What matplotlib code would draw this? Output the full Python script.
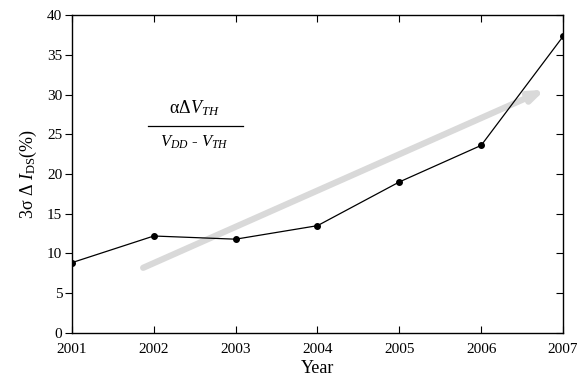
import matplotlib
matplotlib.use("Agg")
import matplotlib.pyplot as plt

plt.rcParams["font.family"] = "Liberation Serif"
plt.rcParams["mathtext.fontset"] = "custom"
plt.rcParams["mathtext.rm"] = "Liberation Serif"
plt.rcParams["mathtext.it"] = "Liberation Serif:italic"

years = [2001, 2002, 2003, 2004, 2005, 2006, 2007]
sigma_ids = [8.85, 12.2, 11.8, 13.5, 19.0, 23.6, 37.3]
trend_start = (2001.87, 8.2)
trend_end = (2006.78, 30.6)

fig = plt.figure(figsize=(5.88, 3.88), dpi=100)
ax = fig.add_axes([0.1224, 0.1418, 0.8351, 0.8195])

# gray trend arrow behind the data
ax.annotate("", xy=trend_end, xytext=trend_start,
            arrowprops=dict(arrowstyle="-|>,head_length=0.8,head_width=0.3",
                            color="#d9d9d9", lw=4.5, shrinkA=0, shrinkB=0),
            zorder=1)

ax.plot(years, sigma_ids, color="black", lw=0.9, marker="o", ms=4, zorder=3)

ax.set_xlim(2001, 2007)
ax.set_ylim(0, 40)
ax.set_xticks(years)
ax.set_yticks(range(0, 41, 5))
ax.tick_params(axis="x", direction="in", top=True, length=5, labelsize=11, pad=7)
ax.tick_params(axis="y", direction="out", length=5, labelsize=11, pad=2)
ax.tick_params(axis="y", which="major", right=True)
for t in ax.yaxis.get_ticklines()[1::2]:
    t.set_marker(matplotlib.lines.TICKLEFT)
for sp in ax.spines.values():
    sp.set_linewidth(1.0)

ax.set_xlabel("Year", fontsize=13, labelpad=3)
ax.set_ylabel("3σ Δ $I_{\\rm DS}$(%)", fontsize=13, labelpad=6)

# formula in the upper-left area
ax.text(2002.5, 28.3, "αΔ$V_{TH}$", ha="center", va="center", fontsize=13)
ax.plot([2001.93, 2003.09], [26.1, 26.1], color="black", lw=0.9)
ax.text(2002.5, 24.0, "$V_{DD}$ - $V_{TH}$", ha="center", va="center", fontsize=12)

fig.savefig("out.png", dpi=100)
